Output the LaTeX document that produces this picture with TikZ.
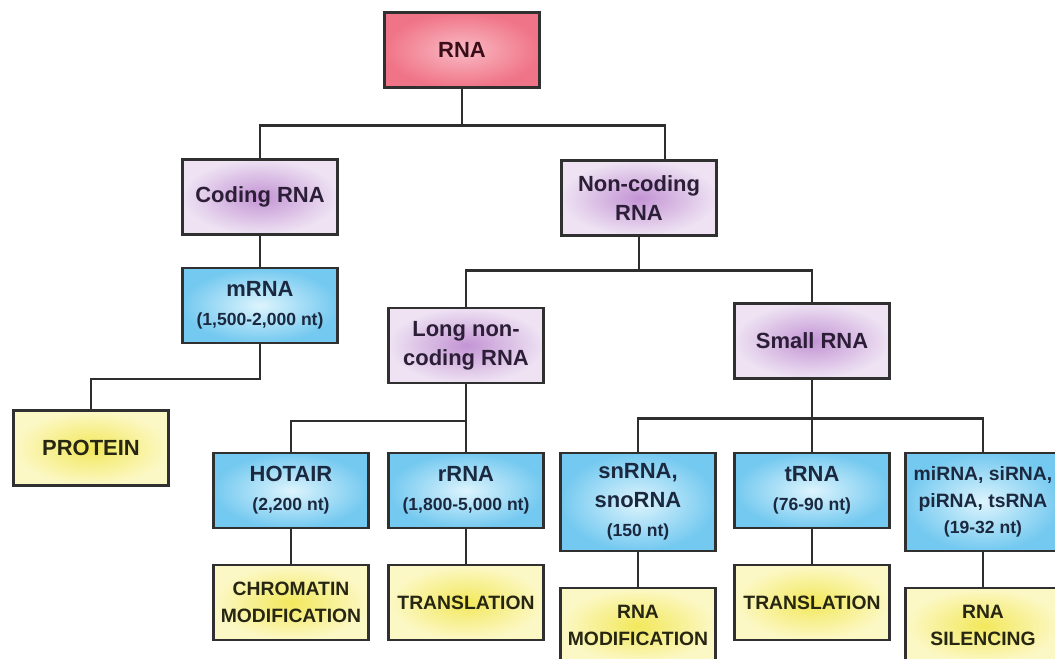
\documentclass[tikz,border=0pt]{standalone}
\usepackage{fontspec}
\setmainfont{Liberation Sans}
\usepackage{xcolor}
\usetikzlibrary{positioning}

\definecolor{rnain}{HTML}{F9BAC4}
\definecolor{rnaout}{HTML}{F07487}
\definecolor{classin}{HTML}{C394D4}
\definecolor{classout}{HTML}{EEE2F3}
\definecolor{typein}{HTML}{DDF4FD}
\definecolor{typeout}{HTML}{74C9F0}
\definecolor{rolein}{HTML}{F2E85C}
\definecolor{roleout}{HTML}{FCF8C6}
\definecolor{boxline}{HTML}{303030}
\definecolor{linecol}{HTML}{2E2E2E}
\definecolor{rnatext}{HTML}{3A0E18}
\definecolor{classtext}{HTML}{2B1E36}
\definecolor{typetext}{HTML}{1B2940}
\definecolor{roletext}{HTML}{262612}

\newcommand{\ntlen}[1]{{\fontsize{10}{13}\selectfont #1}}

\begin{document}
\begin{tikzpicture}[x=0.02cm, y=-0.02cm,
    cell/.style={draw=boxline, line width=1.2pt, minimum width=3.1cm, minimum height=1.5cm,
        align=center, inner sep=2pt, font=\fontsize{12.5}{16.5}\selectfont\bfseries},
    rootbox/.style={cell, inner color=rnain, outer color=rnaout, text=rnatext},
    classbox/.style={cell, inner color=classin, outer color=classout, text=classtext},
    typebox/.style={cell, inner color=typein, outer color=typeout, text=typetext},
    tallbox/.style={typebox, minimum height=1.96cm},
    rolebox/.style={cell, inner color=rolein, outer color=roleout, text=roletext,
        font=\fontsize{11}{15}\selectfont\bfseries},
    link/.style={draw=linecol, line width=1.2pt},
]
\useasboundingbox (0,0) rectangle (1055,659);
\clip (0,0) rectangle (1055,659);
\fill[white] (0,0) rectangle (1055,659);

\node[rootbox] (rna) at (462,50) {RNA};
\node[classbox] (coding) at (260,197) {Coding RNA};
\node[classbox] (noncoding) at (639,198) {Non-coding\\RNA};
\node[typebox] (mrna) at (260,305.5) {mRNA\\\ntlen{(1,500-2,000 nt)}};
\node[rolebox, font=\fontsize{12.5}{16}\selectfont\bfseries] (protein) at (91,448) {PROTEIN};
\node[classbox] (lnc) at (466,345.5) {Long non-\\coding RNA};
\node[classbox] (small) at (812,341) {Small RNA};

\node[typebox] (hotair) at (291,490.5) {HOTAIR\\\ntlen{(2,200 nt)}};
\node[typebox] (rrna) at (466,490.5) {rRNA\\\ntlen{(1,800-5,000 nt)}};
\node[tallbox] (snrna) at (638,502) {snRNA,\\snoRNA\\\ntlen{(150 nt)}};
\node[typebox] (trna) at (812,490.5) {tRNA\\\ntlen{(76-90 nt)}};
\node[tallbox, font=\fontsize{11}{15}\selectfont\bfseries] (mirna) at (983,502)
    {miRNA, siRNA,\\piRNA, tsRNA\\\ntlen{(19-32 nt)}};

\node[rolebox] (chromatin) at (291,602.5) {CHROMATIN\\MODIFICATION};
\node[rolebox] (lnctransl) at (466,602.5) {TRANSLATION};
\node[rolebox] (rnamod) at (638,625.5) {RNA\\MODIFICATION};
\node[rolebox] (trnatransl) at (812,602.5) {TRANSLATION};
\node[rolebox] (silencing) at (983,625.5) {RNA\\SILENCING};

% tree links
\draw[link] (rna.south) -- ++(0,37) coordinate (b1);
\draw[link] (b1) -| (coding.north);
\draw[link] (b1) -| ([xshift=0.52cm]noncoding.north);
\draw[link] (coding) -- (mrna);
\draw[link] (mrna.south) -- ++(0,35) -| (protein.north);
\draw[link] (noncoding.south) -- ++(0,34) coordinate (b2);
\draw[link] (b2) -| (lnc.north);
\draw[link] (b2) -| (small.north);
\draw[link] (lnc) -- (rrna);
\draw[link] (lnc.south) -- ++(0,37) -| (hotair.north);
\draw[link] (hotair) -- (chromatin);
\draw[link] (rrna) -- (lnctransl);
\draw[link] (small) -- (trna);
\draw[link] (small.south) -- ++(0,39) coordinate (b3);
\draw[link] (b3) -| (snrna.north);
\draw[link] (b3) -| (mirna.north);
\draw[link] (snrna) -- (rnamod);
\draw[link] (trna) -- (trnatransl);
\draw[link] (mirna) -- (silencing);
\end{tikzpicture}
\end{document}
